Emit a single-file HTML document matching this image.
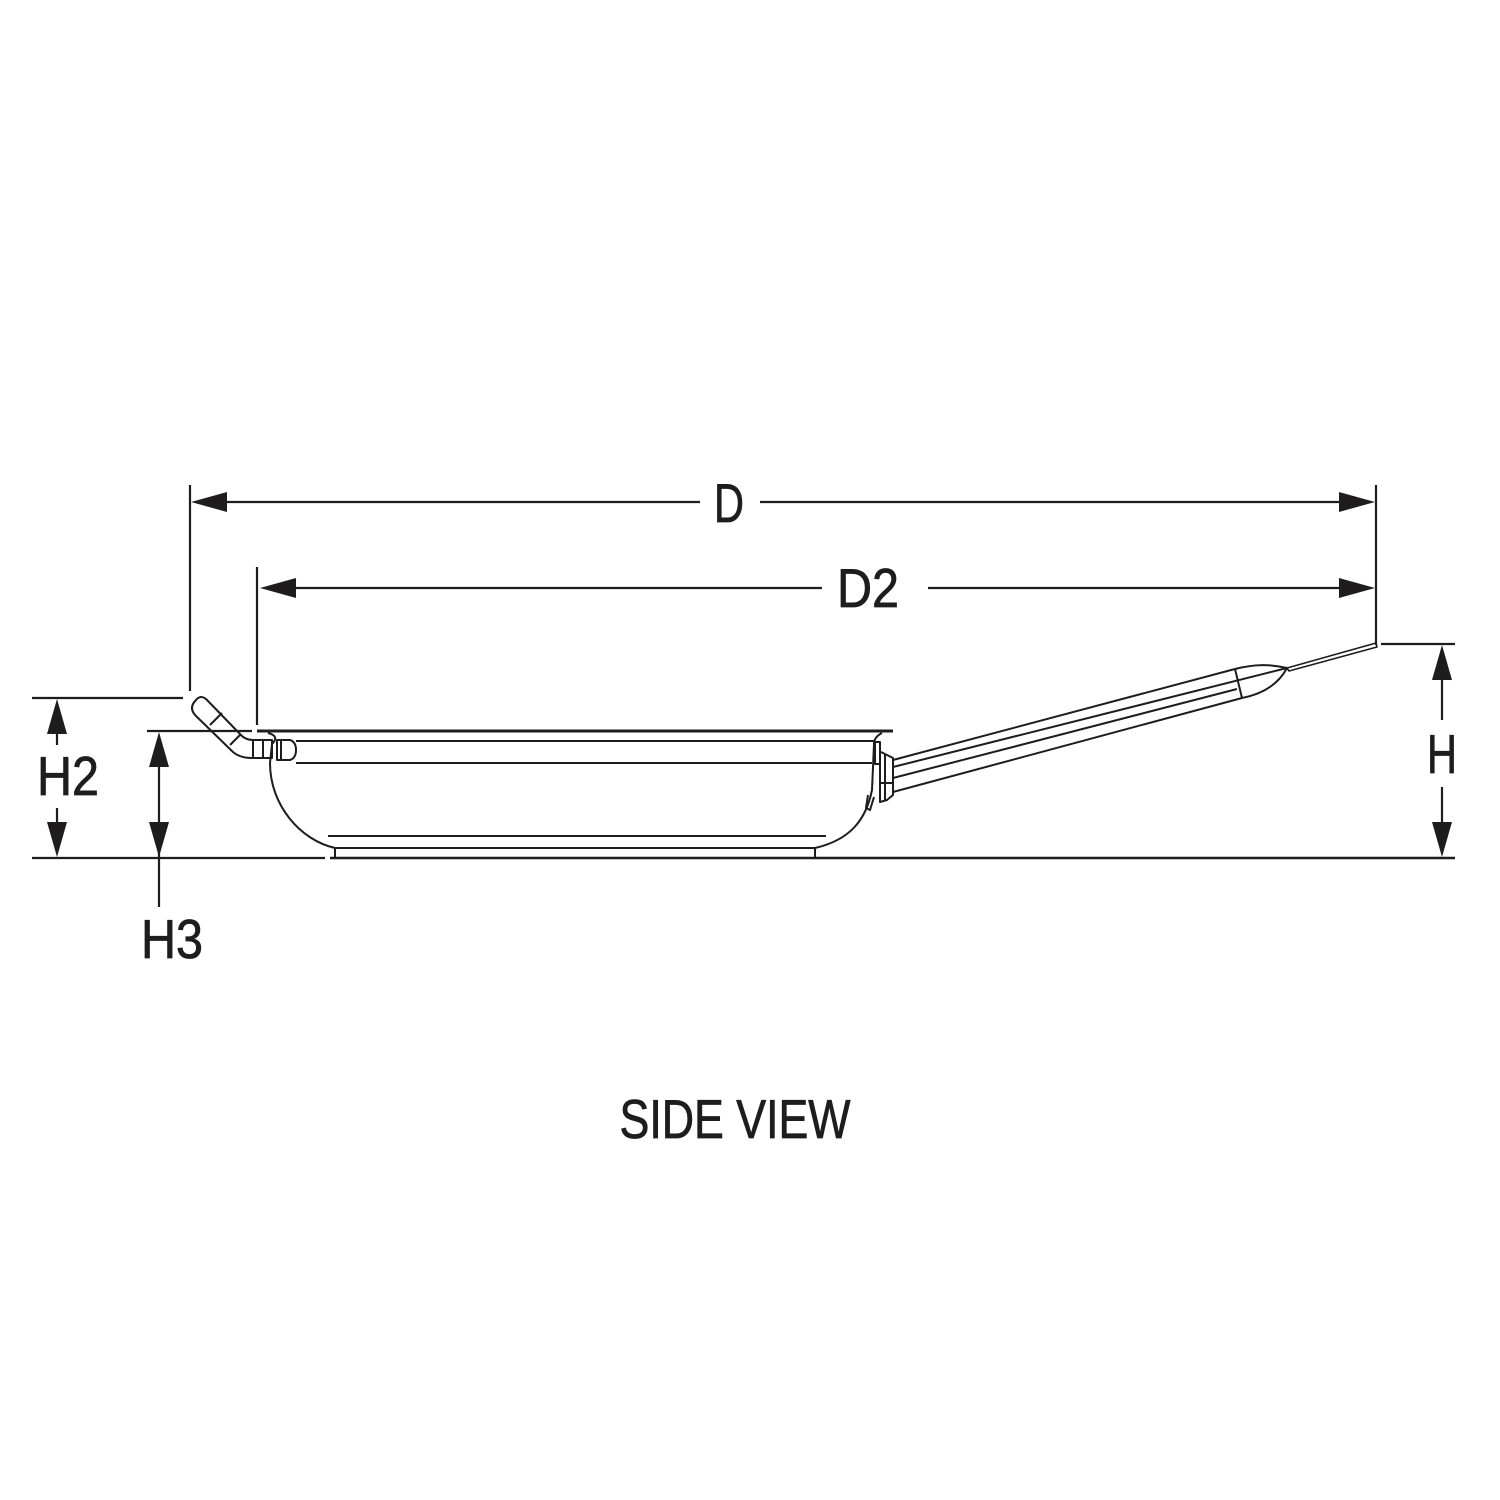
<!DOCTYPE html>
<html><head><style>html,body{margin:0;padding:0;background:#fff}svg{display:block}</style></head>
<body>
<svg width="1500" height="1500" viewBox="0 0 1500 1500" xmlns="http://www.w3.org/2000/svg">
<g stroke="#1f1c1d" stroke-width="2.2" fill="none">
<line x1="190" y1="485" x2="190" y2="691"/>
<line x1="257" y1="567" x2="257" y2="725"/>
<line x1="1376" y1="485" x2="1376" y2="645"/>
<line x1="1381" y1="644" x2="1455" y2="644"/>
<line x1="32" y1="698" x2="183" y2="698"/>
<line x1="147" y1="731" x2="252" y2="731"/>
<line x1="32" y1="858" x2="325" y2="858"/>
<line x1="330" y1="858" x2="1455" y2="858" stroke-width="2.6"/>
<line x1="200" y1="502" x2="700" y2="502"/>
<line x1="760" y1="502" x2="1370" y2="502"/>
<line x1="270" y1="588" x2="822" y2="588"/>
<line x1="928" y1="588" x2="1370" y2="588"/>
<line x1="57" y1="710" x2="57" y2="745"/>
<line x1="57" y1="808" x2="57" y2="845"/>
<line x1="159" y1="740" x2="159" y2="907"/>
<line x1="1442" y1="655" x2="1442" y2="720"/>
<line x1="1442" y1="787" x2="1442" y2="848"/>
</g>
<g fill="#1f1c1d">
<polygon points="191,502 227,492 227,512"/>
<polygon points="1375,502 1339,492 1339,512"/>
<polygon points="260,588 296,578 296,598"/>
<polygon points="1375,588 1339,578 1339,598"/>
<polygon points="57,699 47,734 67,734"/>
<polygon points="57,857 47,822 67,822"/>
<polygon points="159,732 149,767 169,767"/>
<polygon points="159,857 149,822 169,822"/>
<polygon points="1442,645 1432,680 1452,680"/>
<polygon points="1442,857 1432,822 1452,822"/>
</g>
<g stroke="#1f1c1d" stroke-width="2" fill="none" stroke-linejoin="round">
<line x1="257" y1="731" x2="893" y2="731" stroke-width="3"/>
<line x1="296" y1="741" x2="874" y2="741"/>
<line x1="296" y1="763" x2="872" y2="763"/>
<path d="M268,733 Q280,736 272,744 L270,763 C270,805 300,840 335,848"/>
<path d="M882,733 C876,736 874,740 874,744 L872,790 C866,820 850,840 815,848"/>
<line x1="335" y1="848" x2="815" y2="848"/>
<line x1="328" y1="836" x2="826" y2="836"/>
<line x1="335" y1="848" x2="335" y2="857"/>
<line x1="815" y1="848" x2="815" y2="857"/>
<path d="M196,700 Q188,708 196,716 L233,752 Q240,758 252,758 L272,758 L272,740 L253,740 Q245,740 240,734 L207,700 Q201,694 196,700 Z"/>
<line x1="210" y1="725" x2="222" y2="713"/>
<line x1="230" y1="745" x2="240" y2="735"/>
<line x1="253" y1="740" x2="253" y2="758"/>
<line x1="263" y1="740" x2="263" y2="758"/>
<path d="M277,740 L290,740 Q296,742 296,750 Q296,758 290,760 L277,760 Z"/>
<line x1="281" y1="740" x2="281" y2="760"/>
<!-- bracket -->
<path d="M875,742 L875,764 L880,764 L880,742 Z"/>
<path d="M881,752 L887,755 L893,758 L893,795 L887,800 L880,802 L880,752"/>
<line x1="885" y1="754" x2="885" y2="800"/>
<line x1="880" y1="783" x2="893" y2="783"/>
<path d="M868,795 L866,808 L870,810 L874,797"/>
<!-- long handle -->
<line x1="893" y1="760" x2="1235" y2="669"/>
<line x1="893" y1="767" x2="1287" y2="668"/>
<line x1="893" y1="778" x2="1237" y2="689"/>
<line x1="893" y1="792" x2="1242" y2="698"/>
<line x1="1235" y1="669" x2="1242" y2="698"/>
<path d="M1235,669 C1255,664 1270,664 1287,668"/>
<path d="M1242,698 C1262,694 1278,685 1287,668"/>
<path d="M1287,668 L1376,643 L1377,647 L1289,671 Z" stroke-width="1.6"/>
</g>
<g fill="#1f1c1d" stroke="#1f1c1d" stroke-width="0.8" font-family="Liberation Sans, sans-serif" font-size="55" text-anchor="middle">
<text x="729" y="522" textLength="30" lengthAdjust="spacingAndGlyphs">D</text>
<text x="868" y="607" textLength="62" lengthAdjust="spacingAndGlyphs">D2</text>
<text x="68" y="795" textLength="62" lengthAdjust="spacingAndGlyphs">H2</text>
<text x="172" y="958" textLength="62" lengthAdjust="spacingAndGlyphs">H3</text>
<text x="1442" y="773" textLength="30" lengthAdjust="spacingAndGlyphs">H</text>
<text x="735" y="1138" textLength="231" lengthAdjust="spacingAndGlyphs">SIDE VIEW</text>
</g>
</svg>
</body></html>
